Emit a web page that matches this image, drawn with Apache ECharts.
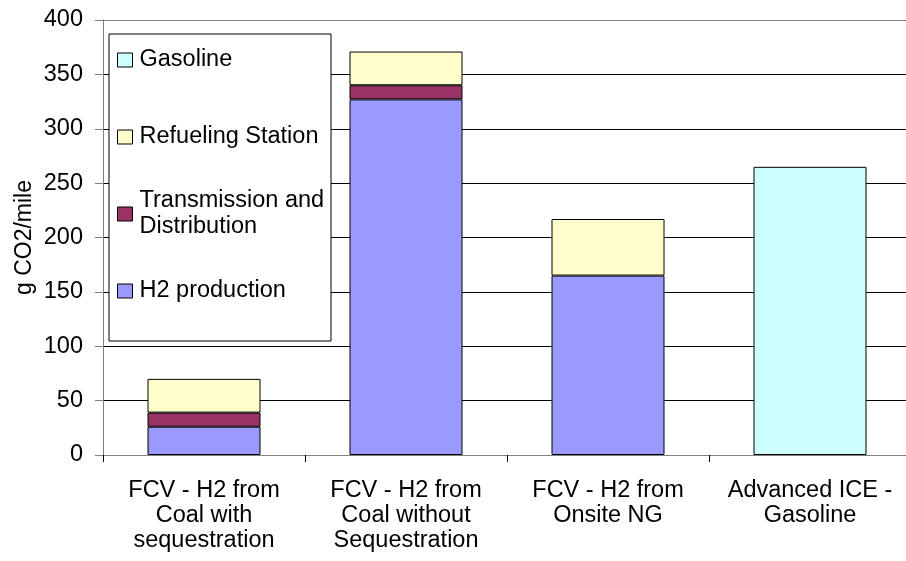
<!DOCTYPE html>
<html>
<head>
<meta charset="utf-8">
<script src="https://cdn.jsdelivr.net/npm/echarts@6/dist/echarts.min.js"></script>
<style>
html,body{margin:0;padding:0;background:#fff;}
#chart{width:906px;height:561px;}
</style>
</head>
<body>
<div id="chart"></div>
<script>
const categories = [
  'FCV - H2 from\nCoal with\nsequestration',
  'FCV - H2 from\nCoal without\nSequestration',
  'FCV - H2 from\nOnsite NG',
  'Advanced ICE -\nGasoline'
];
const h2Production = [26, 327, 165, null];
const transmissionDistribution = [13, 13, null, null];
const refuelingStation = [31, 31, 52, null];
const gasoline = [null, null, null, 265];
const yMin = 0, yMax = 400, yStep = 50;
const yAxisTitle = 'g CO2/mile';

const FONT = "'Liberation Sans', Arial, sans-serif";
const FS = 23.5;
const chart = echarts.init(document.getElementById('chart'), null, {renderer: 'canvas'});

function mkLegend(name, centerY, twoLine) {
  return {
    data: [name],
    orient: 'vertical',
    left: 117,
    top: twoLine ? centerY - 39 : centerY - 13,
    padding: 0,
    itemWidth: 15,
    itemHeight: 14,
    selectedMode: false,
    icon: 'rect',
    itemStyle: {borderColor: '#000', borderWidth: 1},
    formatter: twoLine ? () => 'Transmission and\nDistribution' : undefined,
    textStyle: {
      fontFamily: FONT, fontSize: FS, color: '#000', lineHeight: 26,
      padding: twoLine ? [26, 0, 0, 2] : [0, 0, 0, 2]
    }
  };
}

const splitColors = [];
for (let v = yMin; v <= yMax; v += yStep) splitColors.push(v === yMax ? '#808080' : '#000');

const barStyle = (c) => ({color: c, borderColor: '#000', borderWidth: 1});

chart.setOption({
  animation: false,
  backgroundColor: '#fff',
  textStyle: {fontFamily: FONT},
  grid: {left: 103, top: 20, width: 808, height: 435, outerBoundsMode: 'none', containLabel: false},
  graphic: [{
    type: 'rect', z: 3,
    shape: {x: 109, y: 34, width: 222, height: 307},
    style: {fill: '#fff', stroke: '#000', lineWidth: 1}
  }],
  legend: [
    mkLegend('Gasoline', 60, false),
    mkLegend('Refueling Station', 137, false),
    mkLegend('Transmission and Distribution', 214, true),
    mkLegend('H2 production', 291, false)
  ],
  xAxis: {
    type: 'category',
    data: categories,
    axisLine: {lineStyle: {color: '#808080', width: 1}},
    axisTick: {show: true, length: 7, lineStyle: {color: '#000'}},
    axisLabel: {fontFamily: FONT, fontSize: FS, color: '#000', lineHeight: 25, margin: 23, interval: 0},
    splitLine: {show: false}
  },
  yAxis: {
    type: 'value',
    min: yMin, max: yMax, interval: yStep,
    name: yAxisTitle,
    nameLocation: 'middle',
    nameGap: 67,
    nameMoveOverlap: false,
    nameTextStyle: {fontFamily: FONT, fontSize: 23, color: '#000'},
    axisLine: {show: true, lineStyle: {color: '#808080', width: 1}},
    axisTick: {show: true, length: 8, lineStyle: {color: '#808080'}},
    axisLabel: {fontFamily: FONT, fontSize: FS, color: '#000', margin: 20},
    splitLine: {show: true, lineStyle: {color: splitColors, width: 1}}
  },
  series: [
    {name: 'H2 production', type: 'bar', stack: 'total', barWidth: 113, data: h2Production, itemStyle: barStyle('#9999FF')},
    {name: 'Transmission and Distribution', type: 'bar', stack: 'total', barWidth: 113, data: transmissionDistribution, itemStyle: barStyle('#993366')},
    {name: 'Refueling Station', type: 'bar', stack: 'total', barWidth: 113, data: refuelingStation, itemStyle: barStyle('#FFFFCC')},
    {name: 'Gasoline', type: 'bar', stack: 'total', barWidth: 113, data: gasoline, itemStyle: barStyle('#CCFFFF')}
  ]
});
</script>
</body>
</html>
